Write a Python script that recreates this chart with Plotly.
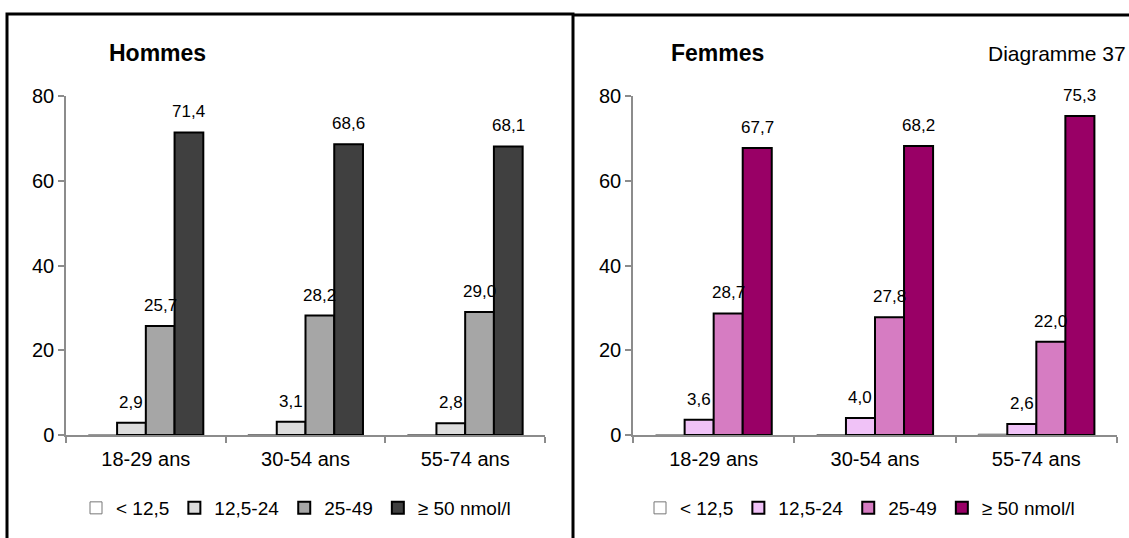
import plotly.graph_objects as go

W, H = 1129, 538

age_groups = ["18-29 ans", "30-54 ans", "55-74 ans"]
series_names = ["< 12,5", "12,5-24", "25-49", "≥ 50 nmol/l"]

hommes_lt12 = [0.0, 0.1, 0.1]
hommes_12_24 = [2.9, 3.1, 2.8]
hommes_25_49 = [25.7, 28.2, 29.0]
hommes_ge50 = [71.4, 68.6, 68.1]

femmes_lt12 = [0.0, 0.1, 0.2]
femmes_12_24 = [3.6, 4.0, 2.6]
femmes_25_49 = [28.7, 27.8, 22.0]
femmes_ge50 = [67.7, 68.2, 75.3]

hommes_colors = ["#ffffff", "#dcdcdc", "#a6a6a6", "#404040"]
femmes_colors = ["#ffffff", "#f0c2f7", "#d67cc2", "#990066"]

BARGAP = 0.28
FONT = "Arial, Liberation Sans, sans-serif"


def px(v):
    return v / W


def py(v):
    return 1 - v / H


fig = go.Figure()
annotations = []

panels = [
    ("x", "y", "legend", [hommes_lt12, hommes_12_24, hommes_25_49, hommes_ge50], hommes_colors),
    ("x2", "y2", "legend2", [femmes_lt12, femmes_12_24, femmes_25_49, femmes_ge50], femmes_colors),
]

for xa, ya, leg, data, colors in panels:
    n = len(data)
    w = (1 - BARGAP) / n
    for i, (vals, name, col) in enumerate(zip(data, series_names, colors)):
        fig.add_trace(go.Bar(
            x=age_groups, y=vals, name=name, xaxis=xa, yaxis=ya, legend=leg,
            marker=dict(color=col, line=dict(color="#000000" if i else "#777777",
                                              width=2 if i else 1)),
            hoverinfo="x+y",
        ))
        if i == 0:
            continue
        # value labels above bars (no label for the < 12,5 series)
        for j, v in enumerate(vals):
            annotations.append(dict(
                x=j - (1 - BARGAP) / 2 + w * (i + 0.5), y=v, xref=xa, yref=ya,
                text=f"{v:.1f}".replace(".", ","), showarrow=False,
                yanchor="bottom", yshift=9, font=dict(size=17, color="#000"),
            ))

# titles
annotations += [
    dict(x=px(107), y=py(53), xref="paper", yref="paper", text="<b>Hommes</b>",
         showarrow=False, xanchor="left", yanchor="middle", font=dict(size=23)),
    dict(x=px(669), y=py(53), xref="paper", yref="paper", text="<b>Femmes</b>",
         showarrow=False, xanchor="left", yanchor="middle", font=dict(size=23)),
    dict(x=px(1128), y=py(53), xref="paper", yref="paper", text="Diagramme 37",
         showarrow=False, xanchor="right", yanchor="middle", font=dict(size=21)),
]

axis_common = dict(showline=True, linecolor="#8c8c8c", linewidth=1.5,
                   ticks="outside", ticklen=6, tickcolor="#8c8c8c", tickwidth=1.5,
                   showgrid=False, zeroline=False, tickfont=dict(size=20, color="#000"),
                   automargin=False)

ydom = [py(435), py(96)]
yaxis_cfg = dict(axis_common, range=[0, 80], tickvals=[0, 20, 40, 60, 80],
                 domain=ydom, ticklabelstandoff=0)
xaxis_cfg = dict(axis_common, tickson="boundaries", type="category",
                 ticklabelstandoff=5)

legend_common = dict(orientation="h", xanchor="center", yanchor="middle",
                     y=py(508), font=dict(size=19, color="#000"),
                     bgcolor="rgba(0,0,0,0)", itemwidth=30, tracegroupgap=0)

fig.update_layout(
    width=W, height=H,
    margin=dict(l=0, r=0, t=0, b=0, pad=0, autoexpand=False),
    paper_bgcolor="white", plot_bgcolor="white",
    font=dict(family=FONT, color="#000"),
    barmode="group", bargap=BARGAP, bargroupgap=0,
    xaxis=dict(xaxis_cfg, domain=[px(66), px(545)], anchor="y"),
    yaxis=dict(yaxis_cfg, anchor="x"),
    xaxis2=dict(xaxis_cfg, domain=[px(633), px(1117)], anchor="y2"),
    yaxis2=dict(yaxis_cfg, anchor="x2"),
    legend=dict(legend_common, x=px(296)),
    legend2=dict(legend_common, x=px(860)),
    annotations=annotations,
    shapes=[
        dict(type="rect", xref="paper", yref="paper", x0=px(7), x1=px(573),
             y0=-0.1, y1=py(14), line=dict(color="#000", width=3)),
        dict(type="line", xref="paper", yref="paper", x0=px(573), x1=1.05,
             y0=py(15), y1=py(15), line=dict(color="#000", width=3)),
    ],
)

fig.write_html("out.html", config={"displayModeBar": False},
               post_script="document.body.style.margin='0';")
